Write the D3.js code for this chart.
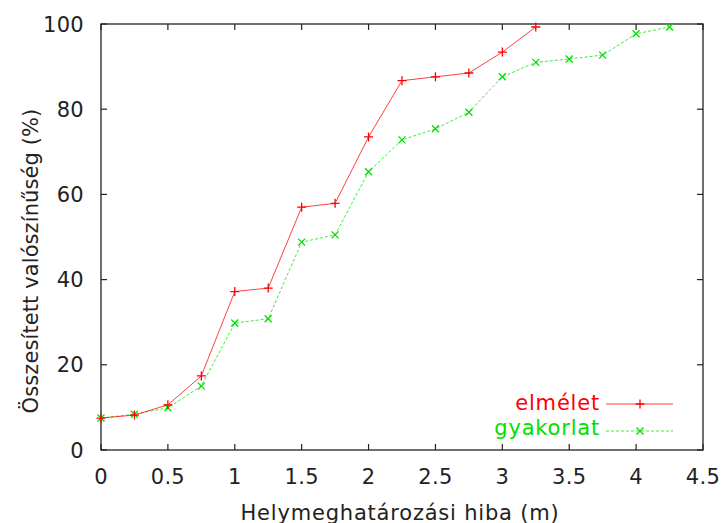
<!DOCTYPE html>
<html>
<head>
<meta charset="utf-8">
<script src="https://cdn.jsdelivr.net/npm/d3@7"></script>
<style>
  body { margin: 0; background: #fff; }
  text { font-family: "DejaVu Sans", sans-serif; fill: #222; }
</style>
</head>
<body>
<div id="chart"></div>
<script>
// Data
const xs = [0, 0.25, 0.5, 0.75, 1, 1.25, 1.5, 1.75, 2, 2.25, 2.5, 2.75, 3, 3.25, 3.5, 3.75, 4, 4.25];
const elmelet = [7.5, 8.2, 10.6, 17.4, 37.2, 38, 57, 57.9, 73.5, 86.7, 87.6, 88.5, 93.4, 99.3];
const gyakorlat = [7.5, 8.4, 9.9, 15, 29.8, 30.8, 48.8, 50.5, 65.3, 72.8, 75.4, 79.3, 87.6, 91, 91.8, 92.7, 97.7, 99.3];
const xTicks = [0, 0.5, 1, 1.5, 2, 2.5, 3, 3.5, 4, 4.5];
const yTicks = [0, 20, 40, 60, 80, 100];

const width = 721, height = 523;
const margin = {top: 24, right: 18, bottom: 73, left: 101};

const svg = d3.select('#chart').append('svg')
    .attr('width', width)
    .attr('height', height);

const x = d3.scaleLinear().domain([0, 4.5]).range([margin.left, width - margin.right]);
const y = d3.scaleLinear().domain([0, 100]).range([height - margin.bottom, margin.top]);

// Frame
svg.append('rect')
    .attr('x', x(0)).attr('y', y(100))
    .attr('width', x(4.5) - x(0)).attr('height', y(0) - y(100))
    .attr('fill', 'none').attr('stroke', '#222').attr('stroke-width', 1.3);

// Ticks, pointing inwards on all sides
const tl = 6;
xTicks.forEach(t => {
    svg.append('line').attr('x1', x(t)).attr('x2', x(t)).attr('y1', y(0)).attr('y2', y(0) - tl)
        .attr('stroke', '#222').attr('stroke-width', 1.2);
    svg.append('line').attr('x1', x(t)).attr('x2', x(t)).attr('y1', y(100)).attr('y2', y(100) + tl)
        .attr('stroke', '#222').attr('stroke-width', 1.2);
    svg.append('text').attr('x', x(t)).attr('y', 484)
        .attr('text-anchor', 'middle').style('font-size', '21px').style('letter-spacing', '0.3px').text(t);
});
yTicks.forEach(t => {
    svg.append('line').attr('x1', x(0)).attr('x2', x(0) + tl).attr('y1', y(t)).attr('y2', y(t))
        .attr('stroke', '#222').attr('stroke-width', 1.2);
    svg.append('line').attr('x1', x(4.5)).attr('x2', x(4.5) - tl).attr('y1', y(t)).attr('y2', y(t))
        .attr('stroke', '#222').attr('stroke-width', 1.2);
    svg.append('text').attr('x', x(0) - 17).attr('y', y(t)).attr('dy', '0.36em')
        .attr('text-anchor', 'end').style('font-size', '21px').style('letter-spacing', '0.3px').text(t);
});

// Axis titles
svg.append('text').attr('x', 400).attr('y', 520)
    .attr('text-anchor', 'middle').style('font-size', '21px').style('letter-spacing', '0.8px')
    .text('Helymeghatározási hiba (m)');
svg.append('text')
    .attr('transform', `translate(38,261) rotate(-90)`)
    .attr('text-anchor', 'middle').style('font-size', '21px').style('letter-spacing', '0.1px')
    .text('Összesített valószínűség (%)');

const series = [
    {name: 'elmélet', values: elmelet, color: '#ff0000', dash: null, marker: 'plus'},
    {name: 'gyakorlat', values: gyakorlat, color: '#00e000', dash: '3,2', marker: 'cross'}
];

const line = d3.line().x(d => x(d[0])).y(d => y(d[1]));

function drawMarker(g, type, cx, cy, color) {
    const s = type === 'plus' ? 4.5 : 3.5;
    if (type === 'plus') {
        g.append('path').attr('d', `M${cx - s},${cy}H${cx + s}M${cx},${cy - s}V${cy + s}`)
            .attr('stroke', color).attr('stroke-width', 1.3).attr('fill', 'none');
    } else {
        g.append('path').attr('d', `M${cx - s},${cy - s}L${cx + s},${cy + s}M${cx - s},${cy + s}L${cx + s},${cy - s}`)
            .attr('stroke', color).attr('stroke-width', 1.3).attr('fill', 'none');
    }
}

// Draw green first so red sits on top
series.slice().reverse().forEach(s => {
    const pts = s.values.map((v, i) => [xs[i], v]);
    const g = svg.append('g');
    g.append('path').datum(pts).attr('d', line)
        .attr('fill', 'none').attr('stroke', s.color).attr('stroke-width', 1)
        .attr('stroke-dasharray', s.dash).attr('opacity', 0.75);
    pts.forEach(p => drawMarker(g, s.marker, x(p[0]), y(p[1]), s.color));
});

// Legend
const legendY = [404, 431];
const legendBase = [410, 435];
series.forEach((s, i) => {
    svg.append('text').attr('x', 600).attr('y', legendBase[i])
        .attr('text-anchor', 'end').style('font-size', '21px').style('letter-spacing', '0.8px')
        .style('fill', s.color).text(s.name);
    svg.append('line').attr('x1', 606).attr('x2', 673).attr('y1', legendY[i]).attr('y2', legendY[i])
        .attr('stroke', s.color).attr('stroke-width', 1).attr('stroke-dasharray', s.dash).attr('opacity', 0.75);
    drawMarker(svg, s.marker, 640, legendY[i], s.color);
});
</script>
</body>
</html>
